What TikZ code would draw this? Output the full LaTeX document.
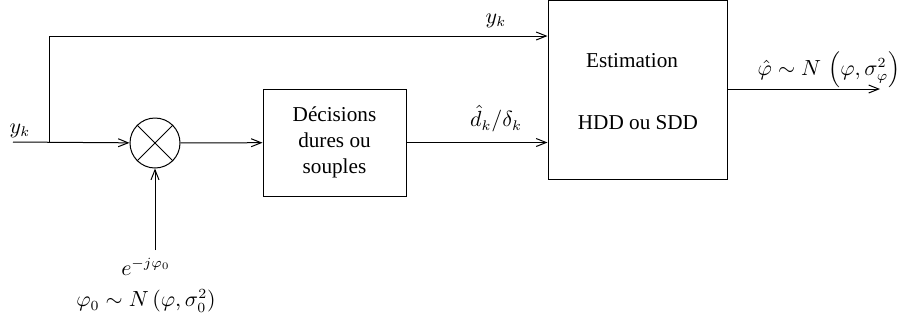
\documentclass[tikz,border=0pt]{standalone}
\usepackage{fontspec}
\setmainfont{Liberation Serif}
\usetikzlibrary{arrows.meta}
\begin{document}
\begin{tikzpicture}[x=0.5pt,y=-0.5pt,
  line width=0.5pt,
  every node/.style={font=\fontsize{10.6}{13}\selectfont},
  arr/.style={-{Straight Barb[length=5pt,width=4pt]}},
  blk/.style={draw,rectangle,inner sep=0pt,align=center},
  mult/.style={draw,circle,minimum size=25pt,inner sep=0pt}
]
\useasboundingbox (0,0) rectangle (906,323);
% coordinates
\coordinate (in) at (13,142);
\coordinate (br) at (49,142);
\coordinate (corner) at (49,36);
\coordinate (src) at (155,250);
\coordinate (out) at (880,89);
% blocks
\node[mult] (mx) at (155,143) {};
\draw (mx.north west) -- (mx.south east) (mx.north east) -- (mx.south west);
\node[blk,minimum width=71.5pt,minimum height=53.5pt] (dec) at (334.5,142.5) {D\'ecisions\\dures ou\\souples};
\node[blk,minimum width=89.5pt,minimum height=89.5pt] (est) at (637.5,89.5) {};
\node (estA) at (632,61) {Estimation};
\node (estB) at (638,123) {HDD ou SDD};
\coordinate (estTop) at (est.west |- corner);
% connectors
\draw[arr] (in) -- (mx);
\draw[arr] (br) -- (corner) -- (estTop);
\draw[arr] (mx) -- (dec);
\draw[arr] (dec.east) -- (dec.east -| est.west);
\draw[arr] (src) -- (mx);
\draw[arr] (est.east |- out) -- (out);
% labels
\node (lyk) at (20,131) {$y_k$};
\node (lyk2) at (496,21) {$y_k$};
\node (ldk) at (496,119) {$\hat{d}_k/\delta_k$};
\node (lout) at (829,70) {$\hat{\varphi}\sim N\,\left(\varphi,\sigma_\varphi^2\right)$};
\node (lexp) at (146,267) {$e^{-j\varphi_0}$};
\node (lphi) at (146,301) {$\varphi_0\sim N\left(\varphi,\sigma_0^2\right)$};
\end{tikzpicture}
\end{document}
